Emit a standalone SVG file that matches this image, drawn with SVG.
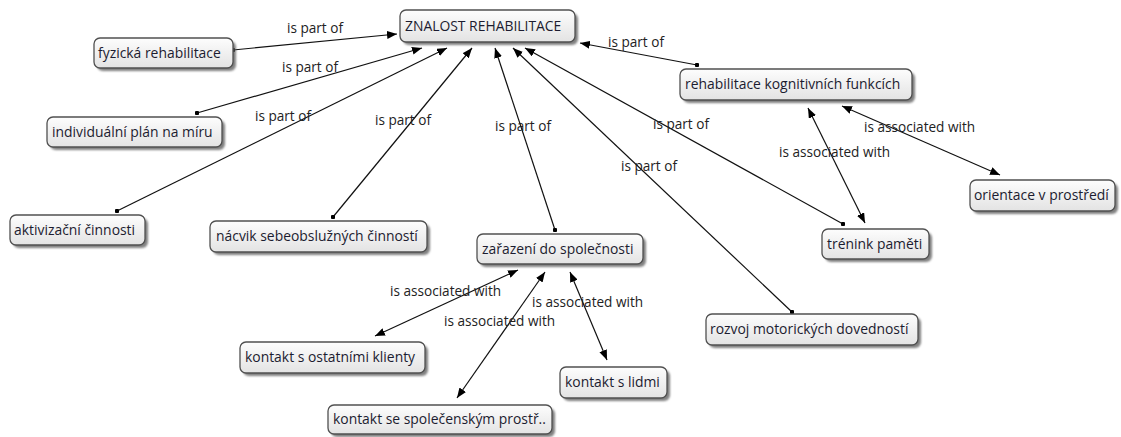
<svg xmlns="http://www.w3.org/2000/svg" width="1121" height="437" viewBox="0 0 1121 437">
  <defs>
    <linearGradient id="nodeFill" x1="0" y1="0" x2="0" y2="1">
      <stop offset="0" stop-color="#fdfdfd"/>
      <stop offset="1" stop-color="#e3e3e3"/>
    </linearGradient>
    <filter id="soft" x="-10%" y="-30%" width="130%" height="180%">
      <feGaussianBlur stdDeviation="1.2"/>
    </filter>
    <marker id="arrow" viewBox="0 0 10 8" refX="10" refY="4" markerWidth="10" markerHeight="8" markerUnits="userSpaceOnUse" orient="auto-start-reverse">
      <path d="M0,0 L10,4 L0,8 z" fill="#000"/>
    </marker>
    <marker id="dot" viewBox="0 0 4 4" refX="2" refY="2" markerWidth="4.5" markerHeight="4.5" markerUnits="userSpaceOnUse">
      <circle cx="2" cy="2" r="2" fill="#000"/>
    </marker>
  </defs>
  <style>
    .shadow { fill: #555; opacity: 0.75; filter: url(#soft); }
    .box { fill: url(#nodeFill); stroke: #505050; stroke-width: 1.3; }
    .label { font-family: "Open Sans", "Noto Sans", "DejaVu Sans", sans-serif; font-size: 13.9px; fill: #1c1c30; }
    .link { fill: none; stroke: #111; stroke-width: 1.2; }
    .part { marker-start: url(#dot); marker-end: url(#arrow); }
    .assoc { marker-start: url(#arrow); marker-end: url(#arrow); }
    .ltext { font-family: "Open Sans", "Noto Sans", "DejaVu Sans", sans-serif; font-size: 13.6px; fill: #222; }
  </style>
  <rect width="1121" height="437" fill="#fff"/>

  <!-- connectors -->
  <g id="connectors">
    <line class="link part" x1="233" y1="50" x2="397" y2="34"/>
    <line class="link part" x1="197" y1="113" x2="422" y2="48"/>
    <line class="link part" x1="117" y1="211" x2="447" y2="48"/>
    <line class="link part" x1="333" y1="217" x2="472" y2="48"/>
    <line class="link part" x1="555" y1="230" x2="495" y2="48"/>
    <line class="link part" x1="792" y1="312" x2="513" y2="48"/>
    <line class="link part" x1="843" y1="224" x2="525" y2="48"/>
    <line class="link part" x1="697" y1="65" x2="580" y2="43"/>
    <line class="link assoc" x1="865" y1="223" x2="808" y2="108"/>
    <line class="link assoc" x1="1000" y1="175" x2="842" y2="106"/>
    <line class="link assoc" x1="375" y1="336" x2="518" y2="270"/>
    <line class="link assoc" x1="457" y1="398" x2="545" y2="272"/>
    <line class="link assoc" x1="607" y1="360" x2="570" y2="272"/>

    <text class="ltext" x="287" y="33">is part of</text>
    <text class="ltext" x="282" y="72">is part of</text>
    <text class="ltext" x="255" y="121">is part of</text>
    <text class="ltext" x="375" y="125">is part of</text>
    <text class="ltext" x="495" y="131">is part of</text>
    <text class="ltext" x="621" y="171">is part of</text>
    <text class="ltext" x="653" y="129">is part of</text>
    <text class="ltext" x="608" y="47">is part of</text>
    <text class="ltext" x="779" y="157">is associated with</text>
    <text class="ltext" x="864" y="132">is associated with</text>
    <text class="ltext" x="390" y="296">is associated with</text>
    <text class="ltext" x="444" y="326">is associated with</text>
    <text class="ltext" x="532" y="307">is associated with</text>
  </g>

  <!-- concepts -->
  <g id="znalost-rehabilitace">
    <rect class="shadow" x="403" y="13" width="175" height="32" rx="6"/>
    <rect class="box" x="400" y="10" width="175" height="32" rx="6"/>
    <text class="label" x="405" y="31">ZNALOST REHABILITACE</text>
  </g>
  <g id="fyzicka-rehabilitace">
    <rect class="shadow" x="97" y="41" width="139" height="30" rx="6"/>
    <rect class="box" x="94" y="38" width="139" height="30" rx="6"/>
    <text class="label" x="98" y="58">fyzická rehabilitace</text>
  </g>
  <g id="individualni-plan">
    <rect class="shadow" x="50" y="120" width="175" height="30" rx="6"/>
    <rect class="box" x="47" y="117" width="175" height="30" rx="6"/>
    <text class="label" x="52" y="137">individuální plán na míru</text>
  </g>
  <g id="aktivizacni-cinnosti">
    <rect class="shadow" x="13" y="218" width="135" height="30" rx="6"/>
    <rect class="box" x="10" y="215" width="135" height="30" rx="6"/>
    <text class="label" x="14" y="235">aktivizační činnosti</text>
  </g>
  <g id="nacvik-sebeobsluznych">
    <rect class="shadow" x="213" y="224" width="217" height="31" rx="6"/>
    <rect class="box" x="210" y="221" width="217" height="31" rx="6"/>
    <text class="label" x="216" y="241">nácvik sebeobslužných činností</text>
  </g>
  <g id="zarazeni-do-spolecnosti">
    <rect class="shadow" x="480" y="237" width="166" height="30" rx="6"/>
    <rect class="box" x="477" y="234" width="166" height="30" rx="6"/>
    <text class="label" x="482" y="254">zařazení do společnosti</text>
  </g>
  <g id="rehabilitace-kognitivnich">
    <rect class="shadow" x="683" y="72" width="232" height="31" rx="6"/>
    <rect class="box" x="680" y="69" width="232" height="31" rx="6"/>
    <text class="label" x="685" y="89">rehabilitace kognitivních funkcích</text>
  </g>
  <g id="orientace-v-prostredi">
    <rect class="shadow" x="973" y="183" width="145" height="31" rx="6"/>
    <rect class="box" x="970" y="180" width="145" height="31" rx="6"/>
    <text class="label" x="974" y="200">orientace v prostředí</text>
  </g>
  <g id="trenink-pameti">
    <rect class="shadow" x="825" y="232" width="107" height="30" rx="6"/>
    <rect class="box" x="822" y="229" width="107" height="30" rx="6"/>
    <text class="label" x="827" y="249">trénink paměti</text>
  </g>
  <g id="rozvoj-motorickych">
    <rect class="shadow" x="709" y="317" width="212" height="31" rx="6"/>
    <rect class="box" x="706" y="314" width="212" height="31" rx="6"/>
    <text class="label" x="710" y="334">rozvoj motorických dovedností</text>
  </g>
  <g id="kontakt-s-ostatnimi">
    <rect class="shadow" x="243" y="345" width="185" height="31" rx="6"/>
    <rect class="box" x="240" y="342" width="185" height="31" rx="6"/>
    <text class="label" x="245" y="362">kontakt s ostatními klienty</text>
  </g>
  <g id="kontakt-s-lidmi">
    <rect class="shadow" x="563" y="370" width="107" height="31" rx="6"/>
    <rect class="box" x="560" y="367" width="107" height="31" rx="6"/>
    <text class="label" x="565" y="387">kontakt s lidmi</text>
  </g>
  <g id="kontakt-se-spolecenskym">
    <rect class="shadow" x="331" y="408" width="224" height="29" rx="6"/>
    <rect class="box" x="328" y="405" width="224" height="29" rx="6"/>
    <text class="label" x="333" y="424">kontakt se společenským prostř..</text>
  </g>
</svg>
